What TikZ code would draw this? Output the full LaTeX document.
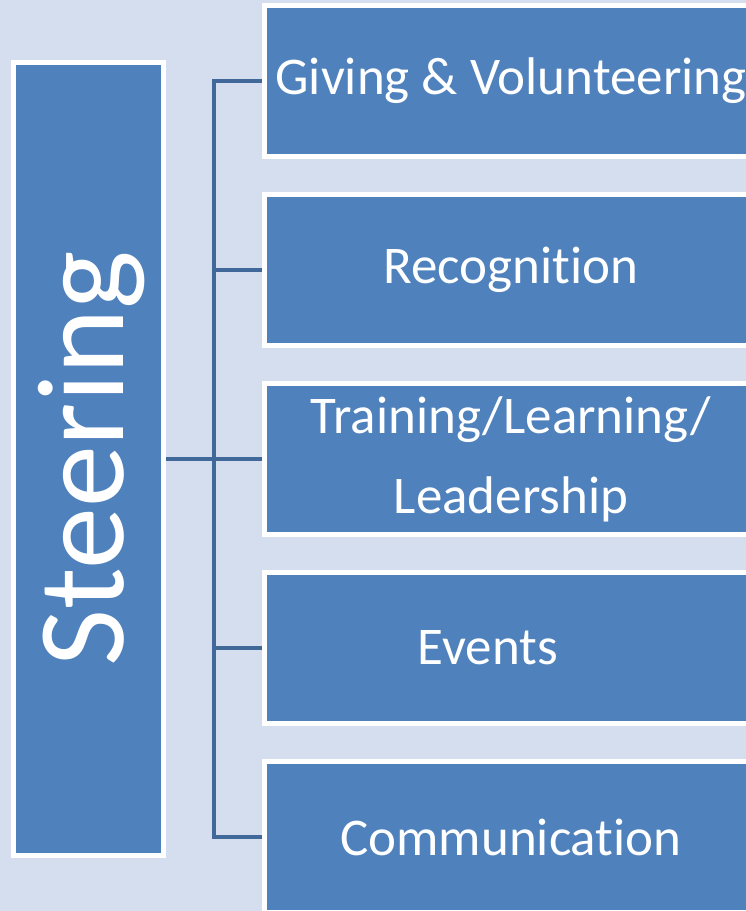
\documentclass[tikz,border=0pt]{standalone}
\usepackage{fontspec}
\setmainfont{Carlito}[Ligatures=NoCommon]
\usetikzlibrary{positioning,calc}
\definecolor{pagebg}{RGB}{213,222,239}
\definecolor{boxblue}{RGB}{79,129,189}
\definecolor{linkblue}{RGB}{64,104,153}

\begin{document}
\begin{tikzpicture}[x=1pt,y=1pt,node distance=189pt,on grid,
		team/.style={draw=white,line width=5pt,fill=boxblue,text=white,
			minimum width=493pt,minimum height=151pt,align=center,
			font=\fontsize{53}{80}\selectfont},
		head/.style={draw=white,line width=5pt,fill=boxblue,text=white,
			minimum width=150pt,minimum height=793pt},
		link/.style={draw=linkblue,line width=4.5pt}]
			\fill[pagebg] (0,0) rectangle (746,-911);
			\useasboundingbox (0,0) rectangle (746,-911);
			\clip (0,0) rectangle (746,-911);
			\node[head] (steer) at (88.5,-459) {};
			\node[rotate=90,text=white,font=\fontsize{124}{130}\selectfont] (steertext) at ([xshift=3pt]steer.center) {Steering};
			\node[team] (learn) [right=422.5pt of steer] {Training/Learning/\\Leadership};
			\node[team] (recog) [above=of learn] {Recognition};
			\node[team] (give) [above=of recog] {Giving \& Volunteering};
			\node[team] (events) [below=of learn] {Events\hspace{46pt}};
			\node[team] (comm) [below=of events] {Communication};
			\coordinate (bus) at ($(steer.east)!0.5!(learn.west)$);
			\path[link]
			(steer.east) -- (learn.west)
			(give.west) -- (bus |- give.west) -- (bus |- comm.west) -- (comm.west)
			(recog.west) -- (bus |- recog.west)
			(events.west) -- (bus |- events.west);
		\end{tikzpicture}
\end{document}
